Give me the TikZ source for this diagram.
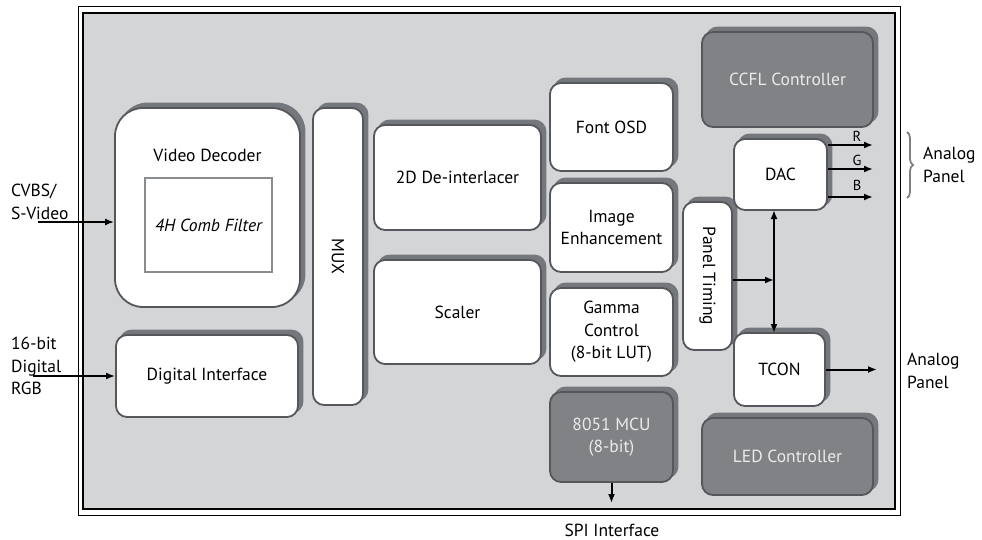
\documentclass[tikz,border=0pt]{standalone}
\usepackage{fontspec}
\setmainfont{PT Sans}
\usetikzlibrary{shadows,arrows.meta,decorations.pathreplacing}
\definecolor{bggray}{HTML}{D4D5D7}
\definecolor{shgray}{HTML}{74787C}
\definecolor{edgegray}{HTML}{55575A}
\definecolor{darkfill}{HTML}{808285}
\definecolor{combedge}{HTML}{8A8D90}
\begin{document}
\begin{tikzpicture}[x=1pt,y=-1pt,
  font=\fontsize{17.5}{22.5}\selectfont,
  blk/.style={draw=edgegray, line width=1.8pt, fill=white, rounded corners=11pt,
    align=center, inner sep=0pt,
    general shadow={fill=shgray, draw=shgray, shadow xshift=4.5pt, shadow yshift=4.5pt}},
  dark/.style={blk, fill=darkfill, text=white!92!black},
  tip/.style={},
  arr/.style={line width=2pt, -{Latex[length=9pt,width=7pt]}},
  lbl/.style={inner sep=0pt, align=left}
]
\useasboundingbox (0,0) rectangle (982,540);
% frame
\draw[line width=1pt] (78,7) rectangle (900,515);
\draw[line width=2pt, fill=bggray] (83,13) rectangle (895,509);

% blocks
\node[blk, rounded corners=28pt, minimum width=185pt, minimum height=199pt] (vd) at (207.5,207.5) {};
\node (vdl) at (207.5,155) {Video Decoder};
\node[draw=combedge, line width=1.8pt, fill=white, minimum width=127pt, minimum height=94pt, font=\fontsize{17.5}{22.5}\selectfont\itshape] (comb) at (208.5,225) {4H Comb Filter};
\node[blk, minimum width=182pt, minimum height=82pt] (di) at (207,376) {Digital Interface};
\node[blk, minimum width=50pt, minimum height=297pt] (mux) at (338,256.5) {};
\node[rotate=-90] (muxl) at (mux.center) {MUX};
\node[blk, minimum width=167pt, minimum height=105pt] (dei) at (457.5,177.5) {2D De-interlacer};
\node[blk, minimum width=167pt, minimum height=104pt] (sc) at (457.5,312) {Scaler};
\node[blk, minimum width=123pt, minimum height=88pt] (osd) at (611.5,127) {Font OSD};
\node[blk, minimum width=123pt, minimum height=89pt] (ie) at (611.5,227.5) {Image\\Enhancement};
\node[blk, minimum width=123pt, minimum height=88pt] (gam) at (611.5,332) {Gamma\\Control\\(8-bit LUT)};
\node[dark, minimum width=123pt, minimum height=90pt] (mcu) at (611.5,437) {8051 MCU\\(8-bit)};
\node[blk, minimum width=49pt, minimum height=148pt] (pt) at (707.5,276) {};
\node[rotate=-90] (ptl) at (pt.center) {Panel Timing};
\node[blk, minimum width=93pt, minimum height=71pt] (dac) at (780.5,174.5) {DAC};
\node[blk, minimum width=91pt, minimum height=73pt] (tcon) at (779.5,369.5) {TCON};
\node[dark, minimum width=171pt, minimum height=95pt] (ccfl) at (787.5,79.5) {CCFL Controller};
\node[dark, minimum width=171pt, minimum height=77pt] (led) at (787.5,456.5) {LED Controller};

% left inputs
\node[lbl, anchor=west] (cvl) at (11,202) {CVBS/\\S-Video};
\coordinate (cvin) at (38,222);
\draw[arr] (cvin) -- (cvin -| vd.west);
\node[lbl, anchor=west] (rgbl) at (11,366) {16-bit\\Digital\\RGB};
\coordinate (rgbin) at (33,376);
\draw[arr] (rgbin) -- (di.west);

% MCU to SPI
\coordinate (spiend) at (611.5,503);
\draw[arr] (mcu.south) -- (spiend);
\node (spi) at (612,530) {SPI Interface};

% panel timing / DAC / TCON
\coordinate (vtop) at (774,210);
\coordinate (vbot) at (774,333);
\coordinate (junc) at (774,280);
\draw[line width=2pt, {Latex[length=9pt,width=7pt]}-{Latex[length=9pt,width=7pt]}] (vtop) -- (vbot);
\draw[arr] (pt.east |- junc) -- (junc);

% RGB outputs
\coordinate (rout) at (873,145);
\coordinate (gout) at (873,169);
\coordinate (bout) at (873,197);
\draw[arr] (rout -| dac.east) -- (rout);
\draw[arr] (gout -| dac.east) -- (gout);
\draw[arr] (bout -| dac.east) -- (bout);
\node[font=\fontsize{14.5}{16}\selectfont] (rl) at (857,136) {R};
\node[font=\fontsize{14.5}{16}\selectfont] (gl) at (857,160) {G};
\node[font=\fontsize{14.5}{16}\selectfont] (bl) at (857,185) {B};
\draw[decorate, decoration={brace, amplitude=6pt}, color=gray, line width=1.8pt] (907,132) -- (907,198);
\node[lbl, anchor=west] (ap1) at (923,165) {Analog\\Panel};

% TCON output
\coordinate (tcout) at (877,369.5);
\draw[arr] (tcon.east) -- (tcout);
\node[lbl, anchor=west] (ap2) at (907,371) {Analog\\Panel};
\end{tikzpicture}
\end{document}
